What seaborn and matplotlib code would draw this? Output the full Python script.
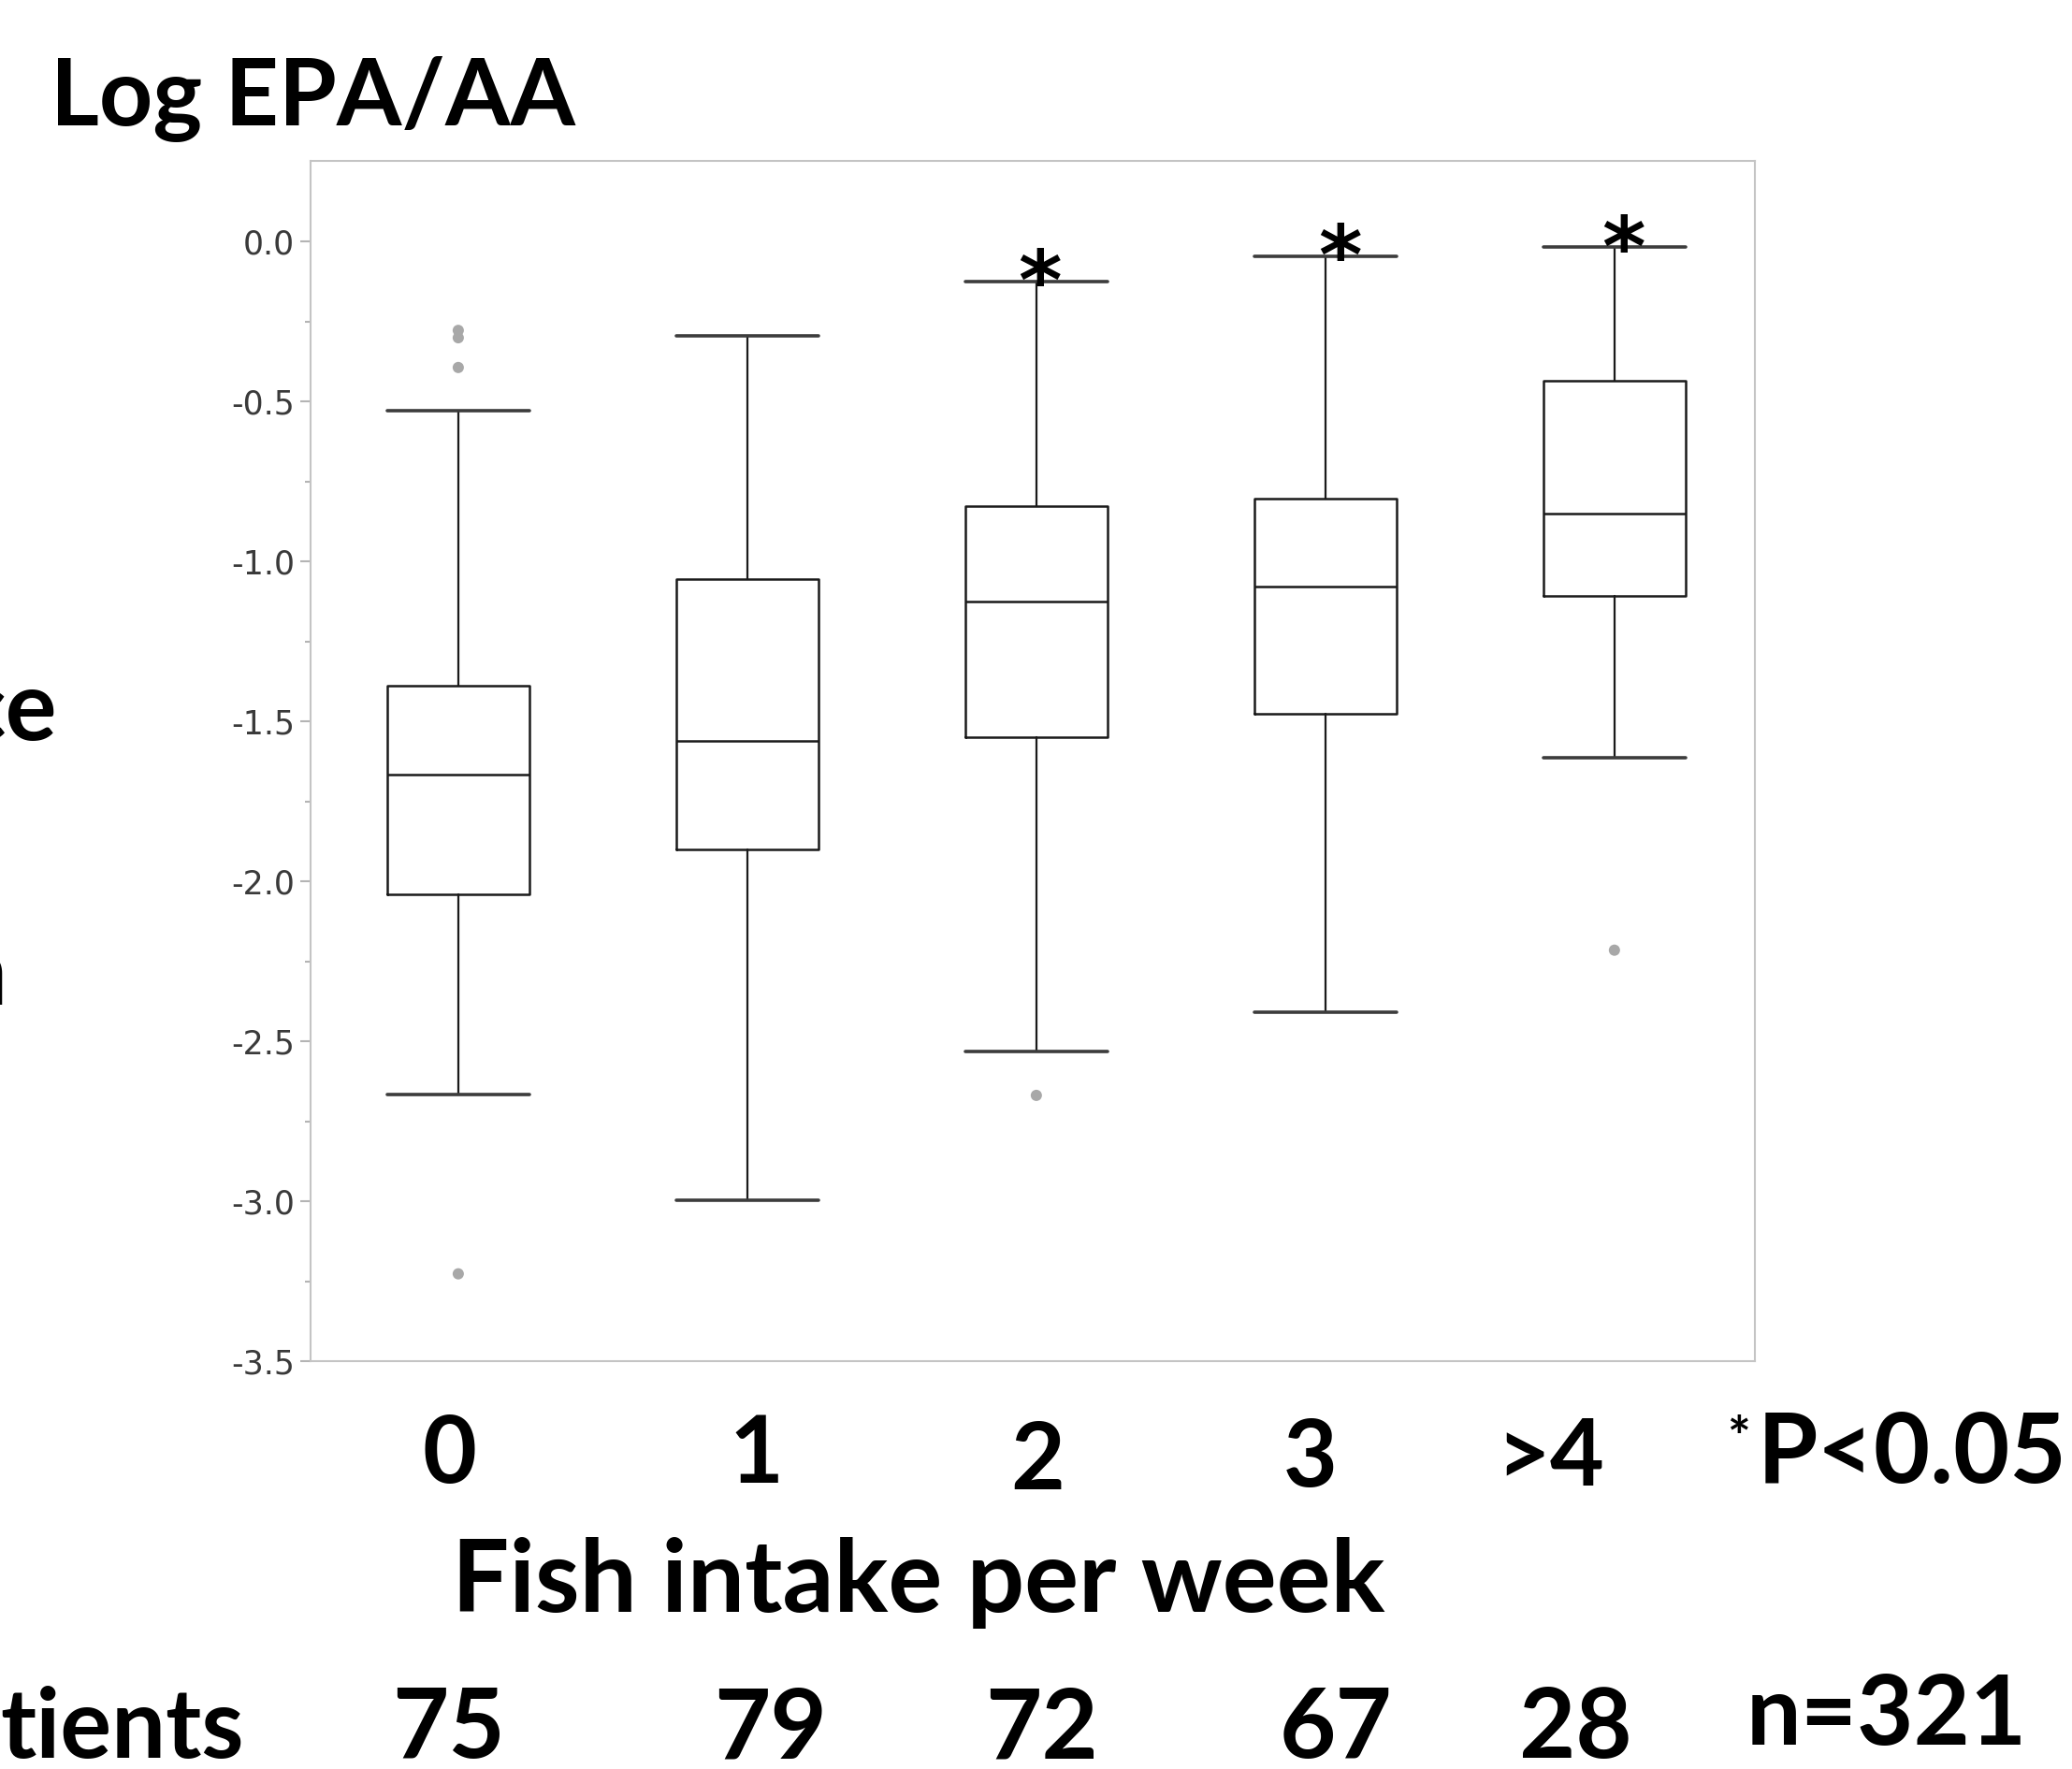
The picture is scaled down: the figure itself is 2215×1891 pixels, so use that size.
import matplotlib
matplotlib.use("Agg")
import matplotlib.pyplot as plt
import pandas as pd
import seaborn as sns

# ── values ────────────────────────────────────────────────────
groups   = ["0", "1", "2", "3", ">4"]
patients = [75, 79, 72, 67, 28]
total_n  = 321

whis_hi = [-0.529, -0.293, -0.124, -0.045, -0.017]
q3      = [-1.388, -1.054, -0.826, -0.802, -0.434]
median  = [-1.665, -1.562, -1.124, -1.079, -0.851]
q1      = [-2.041, -1.901, -1.550, -1.475, -1.107]
whis_lo = [-2.665, -2.996, -2.533, -2.409, -1.612]

outlier_group = [0, 0, 0, 0, 2, 4]
outlier_value = [-0.277, -0.300, -0.393, -3.227, -2.669, -2.215]

significant = [False, False, True, True, True]

y_ticks = [-3.5, -3.0, -2.5, -2.0, -1.5, -1.0, -0.5, 0.0]

# ── layout (pixels of the 2215x1891 canvas) ───────────────────
W, H = 2215, 1891
cat_label_x  = [480, 808, 1109, 1401, 1657]
cat_label_y  = [1585, 1585, 1592, 1589, 1588]
count_x      = [480, 824, 1113, 1428, 1684]
star_dx      = [0, 0, 0.01, 0.05, 0.03]   # stars sit a bit right of centre

sns.set_theme(style="white")
plt.rcParams["font.family"] = ["DejaVu Sans"]
plt.rcParams["axes.unicode_minus"] = False

BIG = dict(family=["Lato", "DejaVu Sans"], weight="bold", color="black")


def fx(px):
    return px / W


def fy(py):
    return 1 - py / H


fig = plt.figure(figsize=(W / 100, H / 100), dpi=100)
fig.patch.set_facecolor("white")
ax = fig.add_axes([fx(332), fy(1455), (1876 - 332) / W, (1455 - 172) / H])

stats = [
    {"med": m, "q1": a, "q3": b, "whislo": lo, "whishi": hi, "fliers": []}
    for m, a, b, lo, hi in zip(median, q1, q3, whis_lo, whis_hi)
]
ax.bxp(
    stats,
    positions=range(len(groups)),
    widths=0.49,
    capwidths=0.49,
    showfliers=False,
    boxprops=dict(color="#1a1a1a", linewidth=1.8),
    medianprops=dict(color="#1a1a1a", linewidth=1.8),
    whiskerprops=dict(color="#1a1a1a", linewidth=1.6),
    capprops=dict(color="#3c3c3c", linewidth=2.6),
    manage_ticks=False,
)

outliers = pd.DataFrame({"group": outlier_group, "value": outlier_value})
sns.scatterplot(data=outliers, x="group", y="value", ax=ax,
                color="#a8a8a8", s=75, edgecolor="none", zorder=3, legend=False)

# significance stars just above the upper caps
for i, sig in enumerate(significant):
    if sig:
        ax.annotate("*", xy=(i + star_dx[i], whis_hi[i]), xytext=(0, -22),
                    textcoords="offset points", ha="center", va="baseline",
                    fontsize=64, fontweight="bold", family=["DejaVu Sans"],
                    color="black", zorder=4)

ax.set_xlim(-0.511, 4.486)
ax.set_ylim(-3.5, 0.253)
ax.set_xticks([])
ax.set_yticks(y_ticks)
ax.set_yticklabels([f"{v:.1f}" for v in y_ticks], fontsize=25, color="#3a3a3a")
ax.set_yticks([v + 0.25 for v in y_ticks[:-1]], minor=True)
ax.tick_params(axis="y", which="major", left=True, length=8, width=1.5,
               color="#b4b4b4", pad=4)
ax.tick_params(axis="y", which="minor", left=True, length=4.5, width=1.5,
               color="#b4b4b4")
ax.set_xlabel("")
ax.set_ylabel("")
for sp in ax.spines.values():
    sp.set_visible(True)
    sp.set_color("#c4c4c4")
    sp.set_linewidth(1.5)

# ── slide text ─────────────────────────────────────────────────
fig.text(fx(54), fy(134), "Log EPA/AA", fontsize=72, ha="left", va="baseline", **BIG)
fig.text(fx(61), fy(791), "ce", fontsize=74, ha="right", va="baseline", **BIG)
fig.text(fx(8), fy(1074), "n", fontsize=74, ha="right", va="baseline", **BIG)

for lab, x, y in zip(groups, cat_label_x, cat_label_y):
    fig.text(fx(x), fy(y), lab, fontsize=72, ha="center", va="baseline", **BIG)

fig.text(fx(1858), fy(1540), "*", fontsize=42, ha="center", va="center", **BIG)
fig.text(fx(1879), fy(1585), "P<0.05", fontsize=75, ha="left", va="baseline", **BIG)

fig.text(fx(982), fy(1723), "Fish intake per week", fontsize=78,
         ha="center", va="baseline", **BIG)

fig.text(fx(261), fy(1879), "tients", fontsize=74, ha="right", va="baseline", **BIG)
for cnt, x in zip(patients, count_x):
    fig.text(fx(x), fy(1879), str(cnt), fontsize=75, ha="center", va="baseline", **BIG)
fig.text(fx(2017), fy(1865), f"n={total_n}", fontsize=75, ha="center", va="baseline", **BIG)

fig.savefig("out.png", dpi=100)
